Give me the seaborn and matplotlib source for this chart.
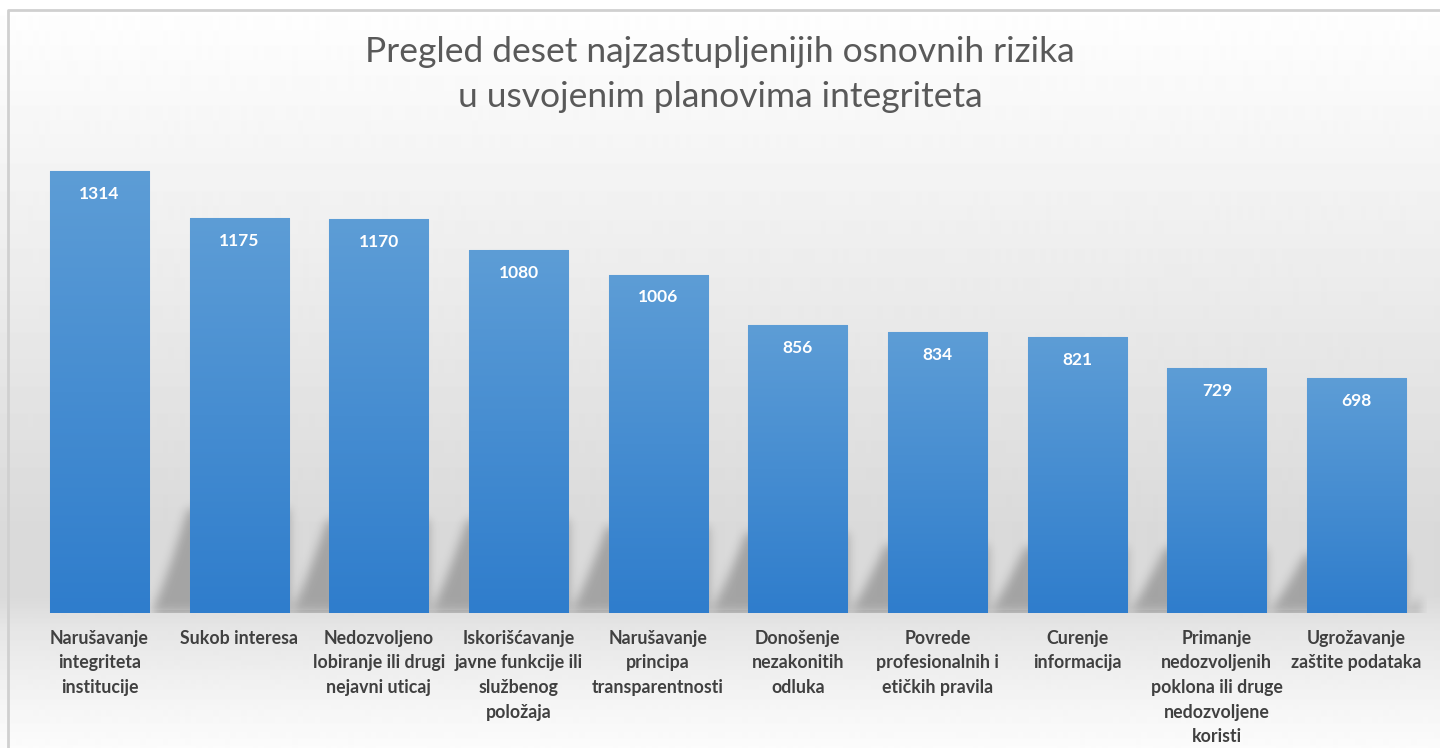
import numpy as np
import pandas as pd
import matplotlib
matplotlib.use("Agg")
import matplotlib.pyplot as plt
import seaborn as sns
from matplotlib.colors import LinearSegmentedColormap
from matplotlib.lines import Line2D

# podaci sa grafikona
categories = [
    "Narušavanje\nintegriteta\ninstitucije",
    "Sukob interesa",
    "Nedozvoljeno\nlobiranje ili drugi\nnejavni uticaj",
    "Iskorišćavanje\njavne funkcije ili\nslužbenog\npoložaja",
    "Narušavanje\nprincipa\ntransparentnosti",
    "Donošenje\nnezakonitih\nodluka",
    "Povrede\nprofesionalnih i\netičkih pravila",
    "Curenje\ninformacija",
    "Primanje\nnedozvoljenih\npoklona ili druge\nnedozvoljene\nkoristi",
    "Ugrožavanje\nzaštite podataka",
]
values = [1314, 1175, 1170, 1080, 1006, 856, 834, 821, 729, 698]
title = "Pregled deset najzastupljenijih osnovnih rizika\nu usvojenim planovima integriteta"

df = pd.DataFrame({"rizik": categories, "broj": values})

sns.set_style("white")
plt.rcParams["font.family"] = ["Lato", "DejaVu Sans"]

fig = plt.figure(figsize=(14.4, 7.48), dpi=100)

# pozadina sa gradijentom
bg = fig.add_axes([0, 0, 1, 1], zorder=-5)
rows = np.linspace(0, 1, 748)
shade = np.interp(rows, [0, 0.13, 0.4, 0.7, 0.8, 0.84, 0.95, 1.0],
                  [1.0, 0.975, 0.92, 0.855, 0.855, 0.9, 0.965, 0.985])
bg.imshow(shade[:, None], cmap="gray", vmin=0, vmax=1, aspect="auto", extent=[0, 1, 0, 1])
bg.axis("off")

ax = fig.add_axes([0.0206, 0.1805, 0.9699, 0.6297])
ax.patch.set_alpha(0)

bar_w = 0.71
y_max = 1400
n = len(values)
sns.barplot(data=df, x="rizik", y="broj", color="#4a8fd6", width=bar_w,
            saturation=1, ax=ax, zorder=3, edgecolor="#8dbbe8", linewidth=0.8)

# gradijent na stubovima
bar_cmap = LinearSegmentedColormap.from_list("plava", ["#2f7dcc", "#5d9dd6"])
for patch in ax.patches:
    x0, y0 = patch.get_x(), patch.get_y()
    w, h = patch.get_width(), patch.get_height()
    im = ax.imshow(np.linspace(0, 1, 200)[:, None], cmap=bar_cmap, origin="lower",
                   extent=[x0, x0 + w, y0, y0 + h], aspect="auto", zorder=4)
    im.set_clip_path(patch)

# senke iza stubova (maska pa zamucivanje)
xs = np.linspace(-0.5, n - 0.5, 1400)
ys = np.linspace(0, y_max, 471)
X, Y = np.meshgrid(xs, ys)
mask = np.zeros_like(X)
for i, v in enumerate(values):
    xr = i + bar_w / 2
    H = 0.235 * v
    dx = 0.27
    sel = (Y <= H) & (X >= xr + dx * (Y / H) ** 0.8) & (X <= min(xr + 1.0, n - 0.55))
    mask[sel] = 1.0

def blur(a, sigma):
    r = int(3 * sigma)
    k = np.exp(-0.5 * (np.arange(-r, r + 1) / sigma) ** 2)
    k /= k.sum()
    a = np.apply_along_axis(lambda m: np.convolve(m, k, mode="same"), 0, a)
    a = np.apply_along_axis(lambda m: np.convolve(m, k, mode="same"), 1, a)
    return a

mask = blur(mask, 5)
mask[0:3, :] = mask[3:6, :]
shadow = np.zeros(mask.shape + (4,))
shadow[..., 3] = mask * 0.25
ax.imshow(shadow, origin="lower", extent=[-0.5, n - 0.5, 0, y_max], aspect="auto", zorder=2)

# vrednosti na stubovima
for i, v in enumerate(values):
    ax.annotate(str(v), (i, v), xytext=(0, -16.5), textcoords="offset points",
                ha="center", va="center", color="white", fontsize=12.5,
                fontweight="bold", zorder=6)

ax.set_xlim(-0.5, n - 0.5)
ax.set_ylim(0, y_max)
ax.set_yticks([])
ax.set_xlabel("")
ax.set_ylabel("")
ax.set_xticks(range(n))
ax.set_xticklabels(categories, fontsize=12.8, fontweight="bold", color="#404040",
                   linespacing=1.55, multialignment="center")
ax.tick_params(axis="x", length=0, pad=12)
for s in ax.spines.values():
    s.set_visible(False)

fig.text(0.5, 0.952, title, ha="center", va="top", fontsize=25.5,
         fontweight="normal", color="#595959", linespacing=1.5)

# okvir
fig.add_artist(Line2D([0.0056, 0.0056, 1.0], [0.0, 0.9866, 0.9866],
                      color="#d0d0d0", lw=2, transform=fig.transFigure))

fig.savefig("out.png", dpi=100)
